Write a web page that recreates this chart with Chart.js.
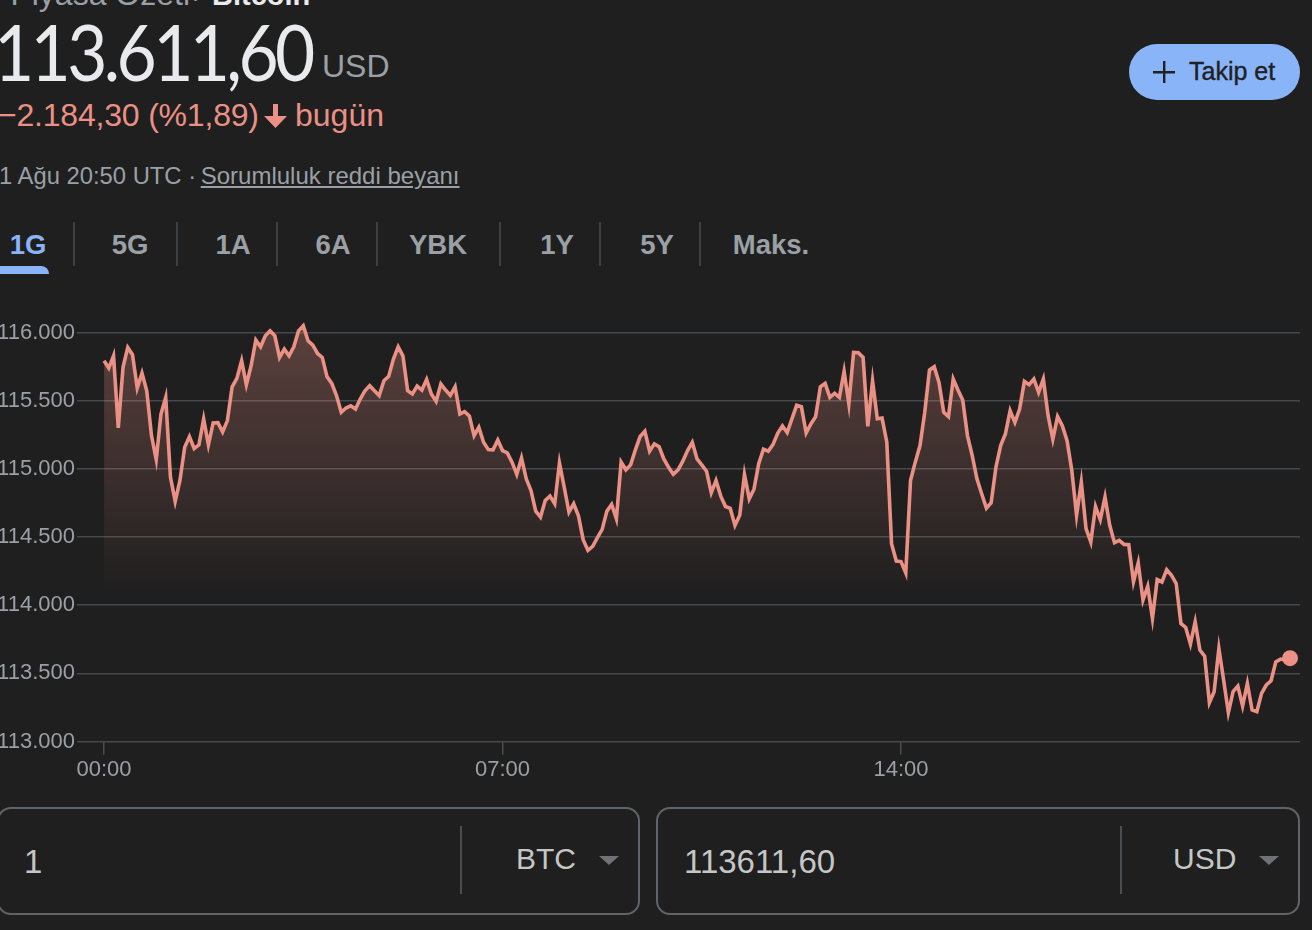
<!DOCTYPE html>
<html lang="tr"><head><meta charset="utf-8">
<script src="https://cdn.jsdelivr.net/npm/chart.js@4"></script>
<style>
html,body{margin:0;padding:0;background:#1f1f1f;width:1312px;height:930px;overflow:hidden;font-family:"Liberation Sans",Arial,sans-serif}
.t{position:absolute;white-space:nowrap;line-height:1}
.sep{position:absolute;background:#3c4043;width:2px}
.tab{position:absolute;top:230px;font-size:27.5px;font-weight:700;color:#9aa0a6;transform:translateX(-50%);line-height:30px}
.box{position:absolute;top:807px;height:104px;border:2px solid #5f6368;border-radius:14px}
.tri{position:absolute;top:856px;width:0;height:0;border-left:10px solid transparent;border-right:10px solid transparent;border-top:9px solid #6f7276}
#wrap{position:absolute;left:0;top:290px;width:1312px;height:495px}
</style></head><body>
<div class="t" style="right:1122px;top:-22px;font-size:32px;color:#9aa0a6">Piyasa Özeti</div>
<div class="t" style="left:193px;top:-19px;font-size:26px;color:#9aa0a6">›</div>
<div class="t" style="left:212px;top:-19px;font-size:29px;color:#e8eaed;font-weight:700">Bitcoin</div>
<div class="t" id="price" style="left:-6px;top:13px;font-family:Lato,sans-serif;font-size:77px;color:#e8eaed;letter-spacing:-4px;transform:scaleX(.9);transform-origin:left top">113.611,60</div>
<div class="t" style="left:322px;top:50px;font-size:32px;color:#9aa0a6">USD</div>
<div class="t" style="left:-2px;top:99px;font-size:32px;color:#ea9085;letter-spacing:-.2px">−2.184,30 (%1,89)</div>
<svg style="position:absolute;left:263px;top:103px" width="25" height="25" viewBox="0 0 25 25"><path d="M10 1h5v12h9L12.500 25 1 13h9z" fill="#ea9085"/></svg>
<div class="t" style="left:295px;top:99px;font-size:32px;color:#ea9085">bugün</div>
<div class="t" style="left:-1px;top:164px;font-size:23.8px;color:#9aa0a6">1 Ağu 20:50 UTC · <span style="text-decoration:underline;font-size:24px;margin-left:-2px">Sorumluluk reddi beyanı</span></div>
<div class="tab" style="left:28px;color:#8ab4f8">1G</div>
<div style="position:absolute;left:-10px;top:266px;width:59px;height:8px;background:#8ab4f8;border-radius:8px 8px 0 0"></div>
<div class="tab" style="left:130px">5G</div><div class="tab" style="left:233px">1A</div><div class="tab" style="left:333px">6A</div><div class="tab" style="left:438px">YBK</div><div class="tab" style="left:557px">1Y</div><div class="tab" style="left:657px">5Y</div><div class="tab" style="left:771px">Maks.</div>
<div class="sep" style="left:73px;top:222px;height:44px"></div><div class="sep" style="left:176px;top:222px;height:44px"></div><div class="sep" style="left:276px;top:222px;height:44px"></div><div class="sep" style="left:376px;top:222px;height:44px"></div><div class="sep" style="left:499px;top:222px;height:44px"></div><div class="sep" style="left:599px;top:222px;height:44px"></div><div class="sep" style="left:699px;top:222px;height:44px"></div>
<div style="position:absolute;left:1129px;top:44px;width:171px;height:56px;border-radius:28px;background:#8ab4f8"></div>
<svg style="position:absolute;left:1153px;top:61px" width="22" height="22"><path d="M10 0h2.400v10H22v2.400h-9.600V22H10v-9.600H0V10h10z" fill="#202124"/></svg>
<div class="t" style="left:1189px;top:59px;font-size:25px;color:#202124;-webkit-text-stroke:.4px #202124">Takip et</div>
<div id="wrap"><canvas id="c"></canvas></div>
<div class="box" style="left:-3px;width:639px"></div>
<div class="sep" style="left:460px;top:826px;height:68px;background:#4a4d50"></div>
<div class="t" style="left:24px;top:845px;font-size:33px;color:#c4c7c5">1</div>
<div class="t" style="left:516px;top:844px;font-size:30px;color:#c4c7c5">BTC</div>
<div class="tri" style="left:599px"></div>
<div class="box" style="left:656px;width:640px"></div>
<div class="sep" style="left:1120px;top:826px;height:68px;background:#4a4d50"></div>
<div class="t" style="left:684px;top:845px;font-size:33px;color:#c4c7c5">113611,60</div>
<div class="t" style="left:1173px;top:844px;font-size:30px;color:#c4c7c5">USD</div>
<div class="tri" style="left:1259px"></div>
<script>
const minutes = [0,5,10,15,20,25,30,35,40,45,50,55,60,65,70,75,80,85,90,95,100,105,110,115,120,125,130,135,140,145,150,155,160,165,170,175,180,185,190,195,200,205,210,215,220,225,230,235,240,245,250,255,260,265,270,275,280,285,290,295,300,305,310,315,320,325,330,335,340,345,350,355,360,365,370,375,380,385,390,395,400,405,410,415,420,425,430,435,440,445,450,455,460,465,470,475,480,485,490,495,500,505,510,515,520,525,530,535,540,545,550,555,560,565,570,575,580,585,590,595,600,605,610,615,620,625,630,635,640,645,650,655,660,665,670,675,680,685,690,695,700,705,710,715,720,725,730,735,740,745,750,755,760,765,770,775,780,785,790,795,800,805,810,815,820,825,830,835,840,845,850,855,860,865,870,875,880,885,890,895,900,905,910,915,920,925,930,935,940,945,950,955,960,965,970,975,980,985,990,995,1000,1005,1010,1015,1020,1025,1030,1035,1040,1045,1050,1055,1060,1065,1070,1075,1080,1085,1090,1095,1100,1105,1110,1115,1120,1125,1130,1135,1140,1145,1150,1155,1160,1165,1170,1175,1180,1185,1190,1195,1200,1205,1210,1215,1220,1225,1230,1235,1240,1245,1250];
const prices = [115793,115739,115829,115300,115744,115890,115837,115593,115702,115573,115244,115068,115402,115524,114939,114761,114915,115159,115237,115149,115176,115366,115176,115337,115339,115271,115354,115602,115663,115793,115617,115756,115944,115895,115976,116012,115976,115817,115878,115829,115895,116012,116049,115939,115907,115846,115817,115676,115627,115537,115415,115446,115463,115439,115512,115573,115610,115573,115537,115646,115678,115805,115895,115829,115573,115549,115607,115578,115656,115549,115495,115622,115578,115539,115602,115402,115420,115388,115244,115305,115195,115141,115139,115212,115134,115117,115049,114959,115080,114927,114841,114690,114646,114768,114800,114744,115044,114866,114683,114744,114656,114481,114402,114432,114495,114556,114690,114739,114634,115049,114993,115029,115139,115237,115276,115129,115183,115163,115073,115012,114961,114993,115056,115134,115195,115073,115029,114983,114824,114915,114800,114724,114710,114585,114659,114959,114780,114851,115037,115144,115129,115178,115261,115315,115266,115366,115466,115456,115263,115329,115383,115602,115627,115524,115554,115524,115715,115476,115854,115851,115817,115312,115646,115368,115373,115195,114451,114324,114320,114237,114915,115049,115171,115415,115724,115749,115634,115415,115383,115659,115578,115505,115244,115098,114927,114817,114712,114751,115012,115171,115256,115427,115341,115439,115641,115617,115659,115561,115659,115390,115217,115383,115317,115207,114988,114659,114902,114561,114463,114724,114627,114793,114585,114459,114476,114446,114444,114171,114310,114037,114139,113902,114188,114171,114261,114220,114159,113866,113837,113715,113878,113671,113627,113285,113366,113683,113451,113212,113366,113407,113261,113427,113232,113220,113354,113415,113446,113585,113605,113598,113612];
const yTicks = [113000,113500,114000,114500,115000,115500,116000];
const yLabels = ["113.000","113.500","114.000","114.500","115.000","115.500","116.000"];
const xTicks = [0,420,840];
const xLabels = ["00:00","07:00","14:00"];
const LINE = "#ea9085";
const font = {family:'"Liberation Sans",Arial,sans-serif',size:22};
function fill(ctx){
  const c = ctx.chart;
  if(!c.chartArea) return "transparent";
  const y0 = c.scales.y.getPixelForValue(116050), y1 = c.scales.y.getPixelForValue(114050);
  const g = c.ctx.createLinearGradient(0,y0,0,y1);
  g.addColorStop(0,"rgba(234,144,133,.30)");
  g.addColorStop(1,"rgba(234,144,133,0)");
  return g;
}
new Chart(document.getElementById("c"),{
  type:"line",
  data:{datasets:[{
    data:minutes.map((m,i)=>({x:m,y:prices[i]})),
    borderColor:LINE,borderWidth:3.6,tension:0,borderJoinStyle:"miter",
    backgroundColor:fill,fill:"start",
    pointRadius:c=>c.dataIndex===prices.length-1?8:0,
    pointBackgroundColor:LINE,pointBorderWidth:0
  }]},
  options:{
    responsive:true,maintainAspectRatio:false,animation:false,
    layout:{padding:{left:0,right:12,top:0,bottom:0}},
    plugins:{legend:{display:false},tooltip:{enabled:false}},
    scales:{
      x:{type:"linear",min:-28.5,max:1260.5,
        afterBuildTicks:a=>{a.ticks=xTicks.map(v=>({value:v}))},
        ticks:{color:"#9aa0a6",font,maxRotation:0,autoSkip:false,padding:2,
          callback:(v)=>xLabels[xTicks.indexOf(v)]},
        grid:{drawOnChartArea:false,drawTicks:true,tickLength:13,color:"#4a4d50",lineWidth:1.5},
        border:{display:false}},
      y:{type:"linear",min:113000,max:116200,
        afterBuildTicks:a=>{a.ticks=yTicks.map(v=>({value:v}))},
        afterFit:a=>{a.width=77},
        ticks:{color:"#9aa0a6",font,padding:2,autoSkip:false,
          callback:(v)=>yLabels[yTicks.indexOf(v)]},
        grid:{drawTicks:false,color:"#46494c",lineWidth:1.5},
        border:{display:false}}
    }
  }
});
</script>
</body></html>
